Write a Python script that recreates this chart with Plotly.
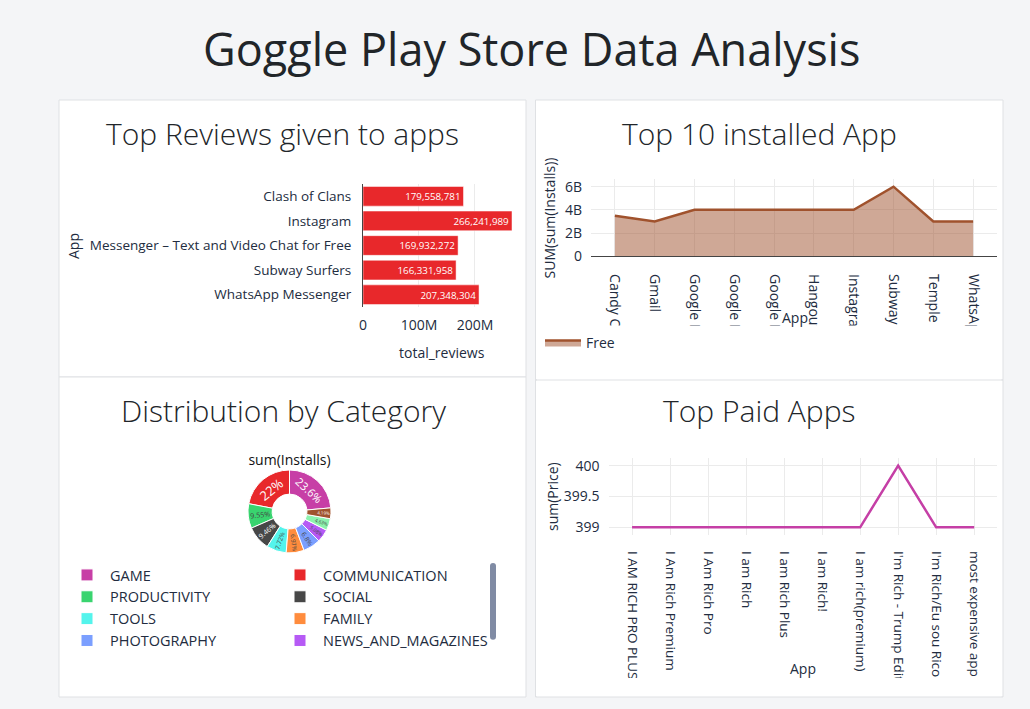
import plotly.graph_objects as go

W, H = 1030, 709
L = 100  # left margin (keeps the category legend to two columns)


def X(px):
    return (px - L) / (W - L)


def Y(py):
    return 1 - py / H


# ---------------- data ----------------
review_apps = ["Clash of Clans", "Instagram", "Messenger – Text and Video Chat for Free",
               "Subway Surfers", "WhatsApp Messenger"]
review_totals = [179558781, 266241989, 169932272, 166331958, 207348304]

install_apps = ["Candy Crush Saga", "Gmail", "Google Drive", "Google News", "Google Photos",
                "Hangouts", "Instagram", "Subway Surfers", "Temple Run 2", "WhatsApp Messenger"]
install_sums = [3.5e9, 3.0e9, 4.0e9, 4.0e9, 4.0e9, 4.0e9, 4.0e9, 6.0e9, 3.0e9, 3.0e9]
install_ticks = [0, 2e9, 4e9, 6e9]
install_ticktext = ["0", "2B", "4B", "6B"]

categories = ["GAME", "COMMUNICATION", "PRODUCTIVITY", "SOCIAL", "TOOLS", "FAMILY",
              "PHOTOGRAPHY", "NEWS_AND_MAGAZINES", "TRAVEL_AND_LOCAL", "VIDEO_PLAYERS"]
category_installs = [35.02e9, 32.64e9, 14.17e9, 14.04e9, 11.45e9, 10.34e9,
                     10.09e9, 7.54e9, 6.87e9, 6.22e9]
category_colors = ["#C73FA6", "#E8282B", "#39D46F", "#474747", "#54F4EC", "#FF8C3D",
                   "#7B9FFF", "#B65AF5", "#8CF2AE", "#A0522D"]

paid_apps = ["I AM RICH PRO PLUS", "I Am Rich Premium", "I Am Rich Pro", "I am Rich",
             "I am Rich Plus", "I am Rich!", "I am rich(premium)", "I'm Rich - Trump Edition",
             "I'm Rich/Eu sou Rico", "most expensive app (H)"]
paid_prices = [399, 399, 399, 399, 399, 399, 399, 400, 399, 399]

# ---------------- style ----------------
FONT = "Open Sans, sans-serif"
TXT = "#222C40"
GRID = "#EBEBEB"
AXLINE = "#444444"
PAGE = "#F4F5F7"
BORDER = "#DFE1E4"

fig = go.Figure()

fig.add_trace(go.Bar(
    x=review_totals, y=review_apps, orientation="h",
    marker=dict(color="#E8282B", line=dict(color="white", width=0.5)),
    texttemplate="%{x:,}", textposition="inside", insidetextanchor="end",
    textfont=dict(color="white", size=10, family=FONT),
    xaxis="x", yaxis="y", showlegend=False))

fig.add_trace(go.Scatter(
    x=install_apps, y=install_sums, mode="lines", fill="tozeroy", name="Free",
    line=dict(color="#A0522D", width=2.5), fillcolor="rgba(160,82,45,0.5)",
    xaxis="x2", yaxis="y2", legend="legend"))

fig.add_trace(go.Pie(
    labels=categories, values=category_installs, hole=0.42, sort=True,
    direction="counterclockwise", rotation=0,
    marker=dict(colors=category_colors, line=dict(color="white", width=1)),
    textinfo="percent", textposition="inside", insidetextorientation="auto",
    textfont=dict(size=20, family=FONT),
    title=dict(text="sum(Installs)", position="top center", font=dict(size=14, family=FONT, color="#111")),
    domain=dict(x=[X(247.5), X(331.5)], y=[Y(553), Y(451)]),
    legend="legend2"))

fig.add_trace(go.Scatter(
    x=paid_apps, y=paid_prices, mode="lines",
    line=dict(color="#C53FA6", width=2.5),
    xaxis="x3", yaxis="y3", showlegend=False))

# ---------------- cards ----------------
shapes = []
cards = [(59, 526, 100, 377), (535.5, 1003, 100, 380), (59, 526, 377, 697), (535.5, 1003, 380, 697)]
for (x0, x1, y0, y1) in cards:
    shapes.append(dict(type="rect", xref="paper", yref="paper", layer="below",
                       x0=X(x0), x1=X(x1), y0=Y(y1), y1=Y(y0),
                       fillcolor="white", line=dict(color=BORDER, width=1)))
# covers that clip the long rotated tick labels like the original page
shapes.append(dict(type="rect", xref="paper", yref="paper", layer="above",
                   x0=X(537), x1=X(1001.5), y0=Y(445), y1=Y(325.5),
                   fillcolor="white", line=dict(width=0)))
shapes.append(dict(type="line", xref="paper", yref="paper", layer="above",
                   x0=X(535.5), x1=X(1003), y0=Y(380), y1=Y(380),
                   line=dict(color=BORDER, width=1)))
shapes.append(dict(type="rect", xref="paper", yref="paper", layer="above",
                   x0=X(537), x1=X(1001.5), y0=Y(697), y1=Y(678),
                   fillcolor="white", line=dict(width=0)))
shapes.append(dict(type="rect", xref="paper", yref="paper", layer="above",
                   x0=X(530), x1=X(1012), y0=Y(712), y1=Y(697),
                   fillcolor=PAGE, line=dict(width=0)))
shapes.append(dict(type="line", xref="paper", yref="paper", layer="above",
                   x0=X(535.5), x1=X(1003), y0=Y(697), y1=Y(697),
                   line=dict(color=BORDER, width=1)))

# ---------------- text ----------------
ann = []


def text(s, x, y, size, color=TXT, angle=0, weight=None):
    f = dict(size=size, family=FONT, color=color)
    if weight:
        f["weight"] = weight
    ann.append(dict(text=s, x=X(x), y=Y(y), xref="paper", yref="paper", showarrow=False,
                    xanchor="center", yanchor="middle", textangle=angle, font=f))


text("Goggle Play Store Data Analysis", 531, 48, 45, color="#212529")
text("Top Reviews given to apps", 282, 133, 30, color="#212529", weight=300)
text("Top 10 installed App", 759, 133, 30, color="#212529", weight=300)
text("Distribution by Category", 283, 410, 30, color="#212529", weight=300)
text("Top Paid Apps", 759, 410, 30, color="#212529", weight=300)

text("App", 73, 246, 14, angle=-90)
text("total_reviews", 442, 352, 14)
text("SUM(sum(Installs))", 549.5, 218, 14, angle=-90)
text("App", 795, 317, 14)
text("sum(Price)", 552, 497, 14, angle=-90)
text("App", 803, 668, 14)

tickfont = dict(size=14, family=FONT, color=TXT)
common = dict(automargin=False, ticks="", zeroline=False)

fig.update_layout(
    width=W, height=H, margin=dict(l=L, r=0, t=0, b=0, autoexpand=False),
    paper_bgcolor=PAGE, plot_bgcolor="white", template="none",
    font=dict(family=FONT, color=TXT, size=14),
    shapes=shapes, annotations=ann,
    xaxis=dict(domain=[X(363), X(519.7)], anchor="y", range=[0, 280e6],
               tickvals=[0, 100e6, 200e6], tickformat="~s", showgrid=True, gridcolor=GRID,
               showline=False, ticklabelstandoff=8, tickfont=tickfont, **common),
    yaxis=dict(domain=[Y(307), Y(184)], anchor="x", type="category", autorange="reversed",
               showgrid=False, showline=True, linecolor=AXLINE, linewidth=1,
               ticklabelstandoff=8, tickfont=dict(size=13.5, family=FONT, color=TXT), **common),
    xaxis2=dict(domain=[X(591), X(997)], anchor="y2", type="category", range=[-0.6, 9.6],
                tickangle=90, showgrid=True, gridcolor=GRID, showline=True,
                linecolor=AXLINE, linewidth=1, ticklabelstandoff=14, tickfont=tickfont, **common),
    yaxis2=dict(domain=[Y(256.3), Y(179)], anchor="x2", range=[0, 6.66e9],
                tickvals=install_ticks, ticktext=install_ticktext, showgrid=True, gridcolor=GRID,
                showline=False, ticklabelstandoff=8, tickfont=tickfont, **common),
    xaxis3=dict(domain=[X(608.5), X(997)], anchor="y3", type="category", range=[-0.62, 9.6],
                tickangle=90, showgrid=True, gridcolor=GRID, showline=False,
                ticklabelstandoff=15, tickfont=dict(size=13.5, family=FONT, color=TXT), **common),
    yaxis3=dict(domain=[Y(535), Y(458)], anchor="x3", range=[398.875, 400.125],
                tick0=399, dtick=0.5, showgrid=True, gridcolor=GRID, showline=False,
                ticklabelstandoff=8, tickfont=tickfont, **common),
    legend=dict(orientation="h", x=X(540), y=Y(327), xanchor="left", yanchor="top",
                bgcolor="rgba(0,0,0,0)", font=dict(size=14, family=FONT, color=TXT),
                itemwidth=36),
    legend2=dict(orientation="h", x=X(64), y=Y(559), xanchor="left", yanchor="top",
                 bgcolor="rgba(0,0,0,0)", font=dict(size=14.5, family=FONT, color=TXT),
                 itemwidth=36, entrywidth=162, entrywidthmode="pixels", maxheight=96),
)

fig.write_html("out.html")
